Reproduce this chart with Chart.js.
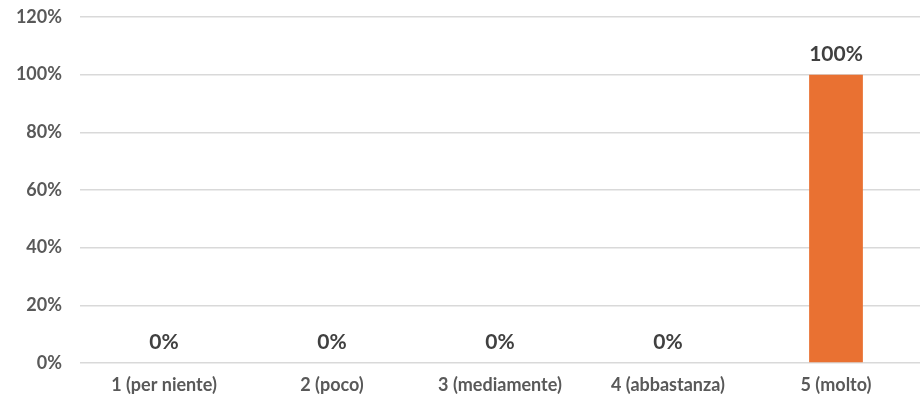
<!DOCTYPE html>
<html>
<head>
<meta charset="utf-8">
<script src="https://cdn.jsdelivr.net/npm/chart.js@4"></script>
<style>
  html, body { margin: 0; padding: 0; background: #fff; }
  #wrap { width: 921px; height: 403px; }
</style>
</head>
<body>
<div id="wrap"><canvas id="grafico"></canvas></div>
<script>
  // dati del grafico
  var categorie = ['1 (per niente)', '2 (poco)', '3 (mediamente)', '4 (abbastanza)', '5 (molto)'];
  var valori = [0, 0, 0, 0, 100];
  var tickY = [0, 20, 40, 60, 80, 100, 120];

  var fontBase = "Lato, sans-serif";

  // etichette sopra le barre
  var etichette = {
    id: 'etichette',
    afterDatasetsDraw: function(chart) {
      var ctx = chart.ctx;
      var meta = chart.getDatasetMeta(0);
      ctx.save();
      ctx.font = '700 21px Lato, sans-serif';
      ctx.fillStyle = '#404040';
      ctx.textAlign = 'center';
      ctx.textBaseline = 'alphabetic';
      meta.data.forEach(function(bar, i) {
        ctx.fillText(valori[i] + '%', bar.x, bar.y - 14);
      });
      ctx.restore();
    }
  };

  var ctx = document.getElementById('grafico').getContext('2d');
  var chart = new Chart(ctx, {
    type: 'bar',
    data: {
      labels: categorie,
      datasets: [{
        data: valori,
        backgroundColor: '#E97132',
        categoryPercentage: 1,
        barPercentage: 0.32
      }]
    },
    options: {
      responsive: true,
      maintainAspectRatio: false,
      animation: false,
      layout: { padding: { top: 17, right: 1, left: 0, bottom: 0 } },
      plugins: {
        legend: { display: false },
        tooltip: { enabled: false }
      },
      scales: {
        x: {
          grid: { display: false, drawTicks: false },
          border: { display: false },
          ticks: {
            color: '#595959',
            font: { family: fontBase, size: 18, weight: 'bold' },
            padding: 11,
            maxRotation: 0
          },
          afterFit: function(scale) { scale.height = 40; }
        },
        y: {
          min: 0,
          max: 120,
          afterBuildTicks: function(scale) {
            scale.ticks = tickY.map(function(v) { return { value: v }; });
          },
          grid: { color: '#d9d9d9', lineWidth: 1.5, drawTicks: false },
          border: { display: false },
          ticks: {
            color: '#595959',
            font: { family: fontBase, size: 18, weight: 'bold' },
            padding: 18,
            callback: function(v) { return v + '%'; }
          },
          afterFit: function(scale) {
            scale.width = 80;
            scale.paddingTop = 0;
            scale.paddingBottom = 0;
          }
        }
      }
    },
    plugins: [etichette]
  });
</script>
</body>
</html>
